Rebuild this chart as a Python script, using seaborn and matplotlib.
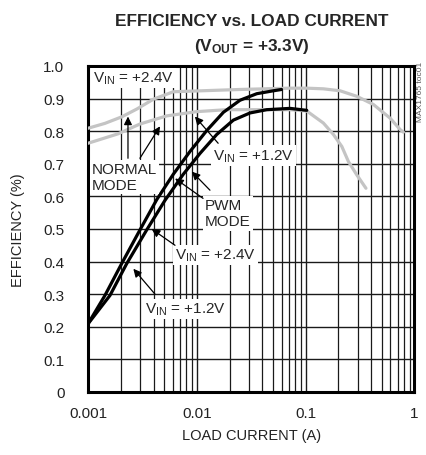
import matplotlib
matplotlib.use("Agg")
import matplotlib.pyplot as plt
import seaborn as sns
import pandas as pd
import numpy as np

# ---- data ----
normal_24_i = [0.001, 0.00143, 0.00204, 0.00281, 0.00398, 0.00608, 0.0249, 0.0719, 0.1023,
               0.1455, 0.207, 0.295, 0.419, 0.597, 0.738, 0.791]
normal_24_e = [0.809, 0.824, 0.844, 0.868, 0.898, 0.921, 0.928, 0.932, 0.932,
               0.930, 0.924, 0.907, 0.882, 0.840, 0.805, 0.797]

normal_12_i = [0.001, 0.00189, 0.0030, 0.00529, 0.00998, 0.01883, 0.0719, 0.1023, 0.1455,
               0.1798, 0.215, 0.247, 0.295, 0.358]
normal_12_e = [0.763, 0.792, 0.822, 0.847, 0.860, 0.866, 0.866, 0.862, 0.825,
               0.790, 0.753, 0.707, 0.666, 0.625]

pwm_24_i = [0.001, 0.00143, 0.00204, 0.0030, 0.00428, 0.00608, 0.00866, 0.01233, 0.01754,
            0.02494, 0.03553, 0.0505, 0.06]
pwm_24_e = [0.209, 0.296, 0.394, 0.497, 0.590, 0.668, 0.738, 0.802, 0.858,
            0.895, 0.915, 0.924, 0.928]

pwm_12_i = [0.001, 0.00159, 0.00227, 0.00346, 0.0051, 0.00751, 0.0107, 0.01524, 0.02166,
            0.03083, 0.0439, 0.0719, 0.1023]
pwm_12_e = [0.209, 0.296, 0.394, 0.497, 0.588, 0.668, 0.732, 0.790, 0.834,
            0.856, 0.866, 0.870, 0.864]

x_ticks = [0.001, 0.01, 0.1, 1]
x_ticklabels = ["0.001", "0.01", "0.1", "1"]
y_ticks = [0, 0.1, 0.2, 0.3, 0.4, 0.5, 0.6, 0.7, 0.8, 0.9, 1.0]
y_ticklabels = ["0", "0.1", "0.2", "0.3", "0.4", "0.5", "0.6", "0.7", "0.8", "0.9", "1.0"]

sns.set_style("white")
FAM = ["Liberation Sans", "DejaVu Sans"]
plt.rcParams["font.family"] = FAM
plt.rcParams["mathtext.fontset"] = "custom"
plt.rcParams["mathtext.rm"] = "Liberation Sans"
plt.rcParams["mathtext.it"] = "Liberation Sans"
plt.rcParams["mathtext.bf"] = "Liberation Sans:bold"

fig = plt.figure(figsize=(4.27, 4.56), dpi=100)
ax = fig.add_axes([88/427, 1-393/456, (414.5-88)/427, (393-67)/456])

gray = "#c4c4c4"
for xs, ys in [(normal_24_i, normal_24_e), (normal_12_i, normal_12_e)]:
    df = pd.DataFrame({"I": xs, "E": ys})
    sns.lineplot(data=df, x="I", y="E", ax=ax, color=gray, lw=2.3, sort=False,
                 estimator=None, zorder=3)
for xs, ys in [(pwm_24_i, pwm_24_e), (pwm_12_i, pwm_12_e)]:
    df = pd.DataFrame({"I": xs, "E": ys})
    sns.lineplot(data=df, x="I", y="E", ax=ax, color="black", lw=2.3, sort=False,
                 estimator=None, zorder=4)

ax.set_xscale("log")
ax.set_xlim(0.001, 1)
ax.set_ylim(0, 1.0)
ax.set_xticks(x_ticks)
ax.set_xticklabels(x_ticklabels)
ax.set_yticks(y_ticks)
ax.set_yticklabels(y_ticklabels)
ax.xaxis.set_minor_locator(matplotlib.ticker.LogLocator(base=10, subs=np.arange(2, 10)))
ax.xaxis.set_minor_formatter(matplotlib.ticker.NullFormatter())
ax.grid(True, which="major", axis="both", color="#1a1a1a", lw=1.0, zorder=1)
ax.grid(True, which="minor", axis="x", color="#1a1a1a", lw=0.9, zorder=1)
ax.set_axisbelow(True)
ax.tick_params(axis="y", which="both", length=0, labelsize=11, colors="#222222", pad=17)
ax.tick_params(axis="x", which="both", length=0, labelsize=11, colors="#222222", pad=10)
for s in ax.spines.values():
    s.set_linewidth(2.2)
    s.set_color("black")
ax.set_xlabel("LOAD CURRENT (A)", fontsize=10.5, color="#222222", labelpad=6)
ax.set_ylabel("EFFICIENCY (%)", fontsize=10.5, color="#222222", labelpad=13)

fig.text(252/427, 1-22/456, "EFFICIENCY vs. LOAD CURRENT", ha="center", va="center",
         fontsize=12.4, fontweight="bold")
fig.text(252/427, 1-46/456, r"(V$_{\mathbf{OUT}}$ = +3.3V)", ha="center", va="center",
         fontsize=12.4, fontweight="bold")
fig.text(421/427, 1-92/456, "MAX1765 toc01", rotation=90, ha="center", va="center",
         fontsize=6, color="#555555")

box = dict(facecolor="white", edgecolor="none", pad=1.5)
arrow = dict(arrowstyle="-|>", color="black", lw=0.9, mutation_scale=12, shrinkA=0, shrinkB=0)
fs = 11

ax.text(0.00112, 0.963, r"V$_{\mathrm{IN}}$ = +2.4V", fontsize=fs, va="center", ha="left",
        bbox=box, zorder=6)
ax.text(0.00109, 0.66, "NORMAL\nMODE", fontsize=fs, va="center", ha="left",
        bbox=box, zorder=6, linespacing=1.2)
ax.annotate("", xy=(0.00233, 0.845), xytext=(0.00233, 0.717), arrowprops=arrow, zorder=7)
ax.annotate("", xy=(0.00459, 0.815), xytext=(0.0030, 0.717), arrowprops=arrow, zorder=7)

ax.text(0.0141, 0.726, r"V$_{\mathrm{IN}}$ = +1.2V", fontsize=fs, va="center", ha="left",
        bbox=box, zorder=6)
ax.annotate("", xy=(0.0096, 0.845), xytext=(0.0157, 0.763), arrowprops=arrow, zorder=7)

ax.text(0.0119, 0.548, "PWM\nMODE", fontsize=fs, va="center", ha="left",
        bbox=box, zorder=6, linespacing=1.2)
ax.annotate("", xy=(0.00631, 0.655), xytext=(0.0114, 0.594), arrowprops=arrow, zorder=7)
ax.annotate("", xy=(0.0090, 0.676), xytext=(0.0132, 0.619), arrowprops=arrow, zorder=7)

ax.text(0.0063, 0.42, r"V$_{\mathrm{IN}}$ = +2.4V", fontsize=fs, va="center", ha="left",
        bbox=box, zorder=6)
ax.annotate("", xy=(0.00385, 0.50), xytext=(0.0063, 0.45), arrowprops=arrow, zorder=7)

ax.text(0.00334, 0.255, r"V$_{\mathrm{IN}}$ = +1.2V", fontsize=fs, va="center", ha="left",
        bbox=box, zorder=6)
ax.annotate("", xy=(0.00261, 0.378), xytext=(0.00413, 0.30), arrowprops=arrow, zorder=7)

fig.savefig("out.png", dpi=100)
